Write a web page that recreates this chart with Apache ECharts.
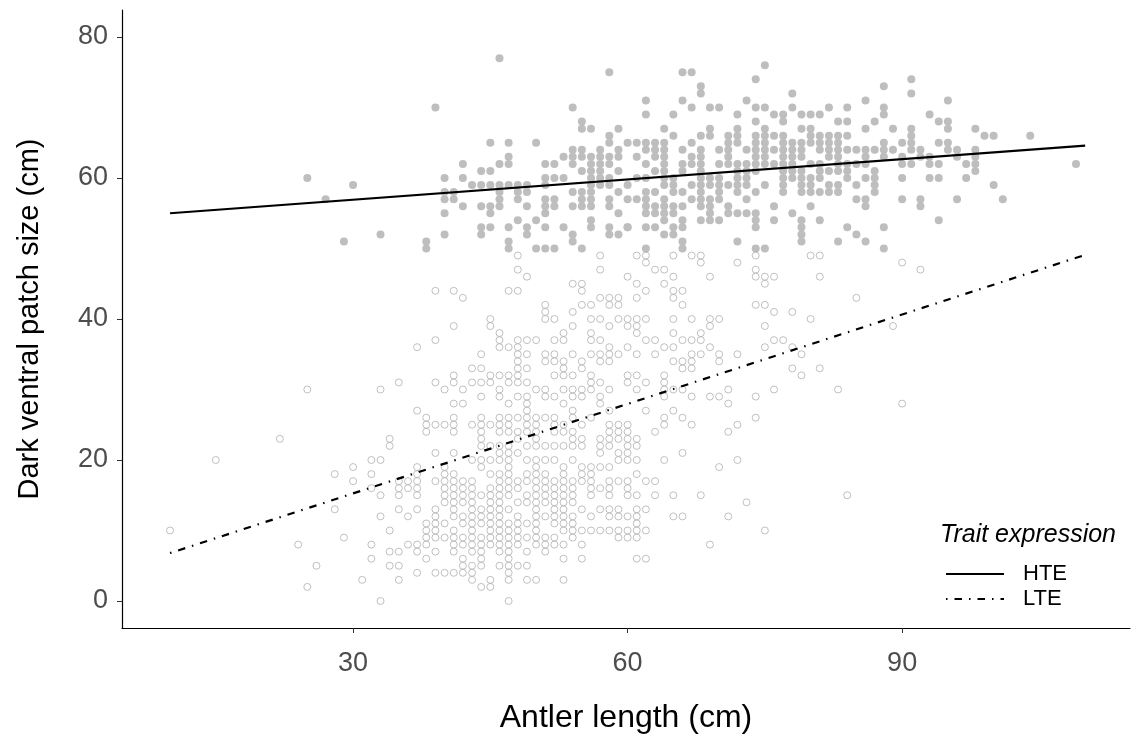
<!DOCTYPE html>
<html>
<head>
<meta charset="utf-8">
<title>Antler length vs dark ventral patch</title>
<script src="https://cdn.jsdelivr.net/npm/echarts@6/dist/echarts.min.js"></script>
<style>
  html, body { margin: 0; padding: 0; background: #fff; }
  #chart { width: 1135px; height: 740px; }
</style>
</head>
<body>
<div id="chart"></div>
<script>
// tick labels
const xTicks = [30, 60, 90]
const yTicks = [0, 20, 40, 60, 80]

// high trait expression (filled points), [antler length, patch size]
const htePoints = [
  [25, 60], [30, 59], [27, 57], [29, 51], [33, 52], [38, 51], [38, 50],
  [46, 77], [58, 75], [39, 70], [54, 70], [55, 68], [55, 67], [56, 67], [59, 67], [58, 66],
  [45, 65], [47, 65], [50, 65], [58, 65], [60, 65],
  [54, 64], [55, 64], [57, 64], [59, 64],
  [47, 63], [53, 63], [54, 63], [55, 63], [56, 63], [57, 63], [58, 63], [59, 63],
  [42, 62], [46, 62], [47, 62], [51, 62], [52, 62], [54, 62], [56, 62], [57, 62], [58, 62],
  [44, 61], [45, 61], [55, 61], [56, 61], [57, 61], [59, 61],
  [40, 60], [42, 60], [51, 60], [52, 60], [53, 60], [56, 60], [57, 60], [58, 60],
  [43, 59], [44, 59], [45, 59], [46, 59], [47, 59], [48, 59], [49, 59], [51, 59], [56, 59], [57, 59], [58, 59], [60, 59],
  [40, 58], [41, 58], [46, 58], [48, 58], [49, 58], [54, 58], [55, 58], [56, 58], [59, 58],
  [40, 57], [41, 57], [46, 57], [48, 57], [51, 57], [52, 57], [55, 57], [56, 57], [58, 57], [60, 57],
  [42, 56], [44, 56], [45, 56], [46, 56], [49, 56], [51, 56], [52, 56], [54, 56], [55, 56], [56, 56], [58, 56],
  [40, 55], [45, 55], [51, 55], [59, 55],
  [48, 54], [50, 54], [56, 54],
  [44, 53], [45, 53], [47, 53], [49, 53], [51, 53], [53, 53], [56, 53], [58, 53], [60, 53],
  [40, 52], [44, 52], [49, 52], [54, 52], [58, 52], [59, 52],
  [47, 51], [54, 51], [47, 50], [50, 50], [51, 50], [52, 50], [55, 50],
  [75, 76], [66, 75], [67, 75], [74, 74], [68, 73], [88, 73], [68, 72], [78, 72], [86, 71], [62, 71], [66, 71], [73, 71],
  [69, 70], [75, 70], [82, 70], [67, 70], [70, 70], [74, 70], [78, 70], [84, 70], [88, 70],
  [62, 69], [65, 69], [72, 69], [76, 69], [77, 69], [79, 69], [80, 69], [81, 69], [88, 69],
  [74, 68], [77, 68], [83, 68], [84, 68], [87, 68],
  [64, 67], [69, 67], [72, 67], [75, 67], [79, 67], [80, 67], [86, 67],
  [65, 66], [68, 66], [69, 66], [71, 66], [72, 66], [74, 66], [75, 66], [76, 66], [77, 66], [80, 66], [81, 66], [82, 66], [83, 66], [84, 66],
  [61, 65], [62, 65], [63, 65], [64, 65], [67, 65], [71, 65], [72, 65], [74, 65], [75, 65], [77, 65], [78, 65], [79, 65], [80, 65], [81, 65], [82, 65], [83, 65],
  [62, 64], [63, 64], [64, 64], [66, 64], [68, 64], [70, 64], [71, 64], [73, 64], [74, 64], [75, 64], [76, 64], [77, 64], [78, 64], [79, 64],
  [81, 64], [82, 64], [83, 64], [84, 64], [85, 64], [86, 64], [87, 64], [88, 64],
  [61, 63], [63, 63], [64, 63], [67, 63], [68, 63], [71, 63], [74, 63], [75, 63], [77, 63], [78, 63], [79, 63], [82, 63], [83, 63], [86, 63], [88, 63],
  [62, 62], [64, 62], [66, 62], [67, 62], [68, 62], [70, 62], [71, 62], [72, 62], [73, 62], [74, 62], [75, 62], [76, 62], [77, 62], [78, 62],
  [80, 62], [81, 62], [83, 62], [84, 62], [85, 62], [86, 62],
  [63, 61], [64, 61], [66, 61], [68, 61], [72, 61], [73, 61], [74, 61], [77, 61], [78, 61], [79, 61], [81, 61], [82, 61], [83, 61], [84, 61], [87, 61],
  [61, 60], [62, 60], [64, 60], [65, 60], [68, 60], [69, 60], [70, 60], [72, 60], [73, 60], [77, 60], [78, 60], [79, 60], [80, 60], [81, 60], [84, 60], [86, 60], [87, 60],
  [64, 59], [65, 59], [67, 59], [68, 59], [69, 59], [70, 59], [71, 59], [72, 59], [73, 59], [75, 59], [77, 59], [79, 59], [80, 59], [82, 59], [83, 59], [85, 59], [87, 59],
  [62, 58], [63, 58], [65, 58], [66, 58], [68, 58], [70, 58], [72, 58], [74, 58], [77, 58], [79, 58], [80, 58], [81, 58], [82, 58], [83, 58], [87, 58],
  [61, 57], [62, 57], [64, 57], [67, 57], [68, 57], [69, 57], [70, 57], [73, 57], [85, 57], [86, 57],
  [62, 56], [63, 56], [64, 56], [65, 56], [66, 56], [68, 56], [69, 56], [71, 56], [76, 56], [80, 56], [86, 56],
  [64, 55], [65, 55], [69, 55], [71, 55], [73, 55], [78, 55], [62, 55], [63, 55], [72, 55], [74, 55],
  [64, 54], [66, 54], [68, 54], [69, 54], [70, 54], [74, 54], [76, 54], [79, 54], [81, 54],
  [60, 53], [62, 53], [63, 53], [65, 53], [66, 53], [74, 53], [79, 53], [84, 53], [88, 53],
  [64, 52], [65, 52], [79, 52], [85, 52],
  [66, 51], [72, 51], [79, 51], [83, 51], [86, 51],
  [62, 50], [66, 50], [74, 50], [75, 50], [88, 50],
  [91, 74], [91, 72], [95, 71], [93, 69], [95, 68], [94, 68], [89, 67], [91, 67], [95, 67], [98, 67], [99, 66], [100, 66], [91, 66], [95, 65], [104, 66],
  [88, 65], [90, 65], [91, 65], [94, 65], [89, 64], [91, 64], [92, 64], [95, 64], [96, 64], [98, 64], [98, 63], [93, 63], [90, 63], [92, 63],
  [94, 62], [90, 62], [91, 62], [93, 62], [97, 62], [98, 62], [96, 63], [109, 62], [98, 61], [90, 60], [93, 60], [94, 60], [97, 60], [100, 59],
  [90, 57], [92, 57], [92, 56], [96, 57], [101, 57], [94, 54]
]

// low trait expression (open points)
const ltePoints = [
  [10, 10], [15, 20], [22, 23], [25, 30], [28, 18], [30, 19], [30, 17], [32, 16], [32, 20], [32, 18], [28, 13], [29, 9],
  [24, 8], [26, 5], [25, 2], [31, 3], [32, 6], [32, 8],
  [48, 49], [57, 49], [48, 47], [57, 47], [49, 46], [60, 46], [54, 45], [55, 45], [39, 44], [41, 44], [42, 43], [47, 44], [48, 44],
  [55, 44], [57, 43], [58, 43], [59, 43],
  [51, 42], [55, 42], [56, 42], [58, 42], [59, 42], [51, 41], [54, 41],
  [45, 40], [51, 40], [52, 40], [56, 40], [57, 40], [59, 40], [60, 40],
  [41, 39], [45, 39], [54, 39], [58, 39], [60, 39],
  [46, 38], [53, 38], [56, 38],
  [39, 37], [46, 37], [48, 37], [49, 37], [50, 37], [52, 37], [53, 37], [56, 37], [57, 37],
  [37, 36], [46, 36], [47, 36], [48, 36], [58, 36], [60, 36],
  [44, 35], [48, 35], [49, 35], [51, 35], [52, 35], [54, 35], [56, 35], [57, 35], [58, 35], [59, 35],
  [48, 34], [51, 34], [52, 34], [53, 34], [55, 34], [57, 34], [58, 34],
  [43, 33], [44, 33], [48, 33], [49, 33], [53, 33], [55, 33],
  [41, 32], [45, 32], [46, 32], [47, 32], [48, 32], [52, 32], [53, 32], [54, 32], [56, 32], [60, 32],
  [35, 31], [39, 31], [41, 31], [43, 31], [44, 31], [45, 31], [47, 31], [48, 31], [49, 31], [56, 31], [57, 31], [60, 31],
  [33, 30], [40, 30], [42, 30], [46, 30], [50, 30], [51, 30], [53, 30], [54, 30], [55, 30], [56, 30], [58, 30],
  [44, 29], [46, 29], [48, 29], [49, 29], [51, 29], [52, 29], [54, 29], [55, 29], [57, 29],
  [41, 28], [42, 28], [47, 28], [49, 28], [53, 28], [57, 28],
  [37, 27], [49, 27], [54, 27], [58, 27],
  [38, 26], [41, 26], [44, 26], [46, 26], [47, 26], [48, 26], [49, 26], [50, 26], [51, 26], [52, 26], [54, 26], [56, 26],
  [38, 25], [39, 25], [40, 25], [41, 25], [43, 25], [44, 25], [45, 25], [46, 25], [47, 25], [49, 25], [50, 25], [52, 25], [53, 25],
  [55, 25], [58, 25], [59, 25], [60, 25],
  [38, 24], [41, 24], [44, 24], [46, 24], [47, 24], [48, 24], [49, 24], [50, 24], [52, 24], [53, 24], [54, 24], [58, 24], [59, 24], [60, 24],
  [34, 23], [44, 23], [48, 23], [50, 23], [54, 23], [55, 23], [57, 23], [58, 23], [59, 23], [60, 23],
  [34, 22], [44, 22], [45, 22], [46, 22], [47, 22], [49, 22], [50, 22], [51, 22], [52, 22], [53, 22], [54, 22], [55, 22], [57, 22], [58, 22], [60, 22],
  [39, 21], [41, 21], [46, 21], [47, 21], [48, 21], [57, 21], [59, 21], [60, 21],
  [33, 20], [43, 20], [44, 20], [45, 20], [46, 20], [47, 20], [49, 20], [50, 20], [51, 20], [52, 20], [54, 20], [59, 20], [60, 20],
  [37, 19], [40, 19], [44, 19], [47, 19], [50, 19], [53, 19], [55, 19], [56, 19], [57, 19], [58, 19],
  [37, 18], [40, 18], [41, 18], [45, 18], [46, 18], [47, 18], [49, 18], [50, 18], [51, 18], [53, 18], [55, 18], [56, 18],
  [35, 17], [36, 17], [37, 17], [39, 17], [40, 17], [41, 17], [42, 17], [43, 17], [46, 17], [47, 17], [48, 17], [49, 17], [50, 17],
  [51, 17], [52, 17], [53, 17], [54, 17], [55, 17], [56, 17], [58, 17], [59, 17], [60, 17],
  [35, 16], [36, 16], [37, 16], [40, 16], [41, 16], [42, 16], [43, 16], [45, 16], [46, 16], [47, 16], [48, 16], [50, 16], [51, 16],
  [52, 16], [53, 16], [54, 16], [56, 16], [57, 16], [58, 16], [60, 16],
  [33, 15], [35, 15], [37, 15], [40, 15], [41, 15], [42, 15], [43, 15], [44, 15], [45, 15], [46, 15], [47, 15], [49, 15], [50, 15],
  [51, 15], [52, 15], [53, 15], [54, 15], [56, 15], [58, 15], [60, 15],
  [40, 14], [41, 14], [42, 14], [43, 14], [45, 14], [46, 14], [48, 14], [49, 14], [50, 14], [51, 14], [52, 14], [53, 14], [54, 14],
  [35, 13], [37, 13], [39, 13], [41, 13], [43, 13], [44, 13], [45, 13], [46, 13], [47, 13], [50, 13], [52, 13], [53, 13], [55, 13],
  [57, 13], [58, 13], [59, 13],
  [33, 12], [36, 12], [39, 12], [41, 12], [42, 12], [43, 12], [44, 12], [45, 12], [46, 12], [48, 12], [50, 12], [51, 12], [52, 12],
  [53, 12], [54, 12], [56, 12], [58, 12], [59, 12], [60, 12],
  [38, 11], [39, 11], [40, 11], [42, 11], [43, 11], [44, 11], [45, 11], [46, 11], [47, 11], [48, 11], [49, 11], [50, 11], [52, 11],
  [53, 11], [54, 11],
  [34, 10], [38, 10], [39, 10], [41, 10], [43, 10], [45, 10], [46, 10], [47, 10], [48, 10], [50, 10], [53, 10], [54, 10], [55, 10],
  [56, 10], [57, 10], [58, 10], [59, 10], [60, 10],
  [38, 9], [39, 9], [40, 9], [41, 9], [42, 9], [43, 9], [44, 9], [45, 9], [46, 9], [47, 9], [48, 9], [49, 9], [50, 9], [51, 9],
  [52, 9], [54, 9], [59, 9], [60, 9],
  [36, 8], [37, 8], [38, 8], [41, 8], [42, 8], [43, 8], [44, 8], [45, 8], [46, 8], [47, 8], [48, 8], [50, 8], [51, 8], [52, 8], [53, 8], [55, 8],
  [34, 7], [35, 7], [37, 7], [39, 7], [41, 7], [43, 7], [44, 7], [46, 7], [47, 7], [49, 7], [51, 7],
  [38, 6], [42, 6], [44, 6], [47, 6], [53, 6], [55, 6],
  [34, 5], [35, 5], [42, 5], [43, 5], [44, 5], [46, 5], [47, 5], [48, 5], [49, 5],
  [37, 4], [39, 4], [40, 4], [41, 4], [42, 4], [43, 4], [47, 4],
  [35, 3], [43, 3], [45, 3], [47, 3], [49, 3], [50, 3], [53, 3],
  [44, 2], [45, 2], [33, 0], [47, 0],
  [61, 49], [62, 49], [65, 49], [67, 49], [68, 49], [74, 49], [80, 49], [81, 49],
  [62, 48], [68, 48], [72, 48], [63, 47], [64, 47], [74, 47],
  [65, 46], [69, 46], [74, 46], [75, 46], [76, 46], [81, 46],
  [61, 45], [64, 45], [75, 45], [62, 44], [65, 44], [66, 44], [61, 43], [65, 43], [85, 43],
  [66, 42], [74, 42], [75, 42], [76, 41], [78, 41],
  [61, 40], [62, 40], [65, 40], [67, 40], [69, 40], [70, 40], [80, 40],
  [61, 39], [69, 39], [75, 39], [61, 38], [65, 38], [68, 38],
  [62, 37], [63, 37], [66, 37], [67, 37], [68, 37], [76, 37], [77, 37],
  [64, 36], [65, 36], [69, 36], [75, 36], [78, 36],
  [61, 35], [63, 35], [67, 35], [68, 35], [70, 35], [72, 35], [79, 35],
  [65, 34], [66, 34], [67, 34], [70, 34],
  [66, 33], [67, 33], [78, 33], [81, 33], [61, 32], [64, 32], [79, 32], [62, 31], [64, 31],
  [61, 30], [64, 30], [65, 30], [66, 30], [71, 30], [76, 30], [83, 30],
  [64, 29], [67, 29], [69, 29], [70, 29], [74, 29], [71, 28], [62, 27], [65, 27], [64, 26], [66, 26], [74, 26],
  [64, 25], [67, 25], [72, 25], [63, 24], [71, 24],
  [61, 23], [61, 22], [66, 21], [61, 20], [64, 20], [72, 20], [70, 19], [61, 18], [62, 17], [63, 17],
  [61, 15], [63, 15], [65, 15], [68, 15], [84, 15], [73, 14], [61, 13], [62, 13], [61, 12], [65, 12], [66, 12], [71, 12],
  [61, 11], [61, 10], [62, 10], [75, 10], [61, 9], [69, 8], [61, 6], [62, 6],
  [90, 48], [92, 47], [89, 39], [90, 28]
]

// fitted lines, end points
const hteFit = [[10, 55.0], [110, 64.6]]
const lteFit = [[10, 6.8], [110, 49.1]]

const chart = echarts.init(document.getElementById('chart'), null, { renderer: 'canvas' })

const axisFont = 'Liberation Sans, Arial, sans-serif'

const option = {
  animation: false,
  backgroundColor: '#fff',
  grid: {
    left: 122,
    right: 5,
    top: 10,
    bottom: 112
  },
  xAxis: {
    type: 'value',
    min: 4.75,
    max: 114.9,
    name: 'Antler length (cm)',
    nameLocation: 'middle',
    nameGap: 74,
    nameTextStyle: { fontFamily: axisFont, fontSize: 32, color: '#000' },
    axisLine: { show: true, onZero: false, lineStyle: { color: '#000', width: 1.2 } },
    axisTick: { show: true, length: 5, customValues: xTicks, lineStyle: { color: '#333' } },
    axisLabel: { customValues: xTicks, fontFamily: axisFont, fontSize: 27, color: '#4d4d4d', margin: 22 },
    splitLine: { show: false }
  },
  yAxis: {
    type: 'value',
    min: -3.83,
    max: 83.83,
    name: 'Dark ventral patch size (cm)',
    nameLocation: 'middle',
    nameGap: 78,
    nameTextStyle: { fontFamily: axisFont, fontSize: 29, color: '#000' },
    axisLine: { show: true, onZero: false, lineStyle: { color: '#000', width: 1.2 } },
    axisTick: { show: true, length: 5, customValues: yTicks, lineStyle: { color: '#333' } },
    axisLabel: { customValues: yTicks, fontFamily: axisFont, fontSize: 27, color: '#4d4d4d', margin: 14 },
    splitLine: { show: false }
  },
  legend: {
    data: ['HTE', 'LTE'],
    orient: 'vertical',
    left: 940,
    top: 558,
    itemWidth: 58,
    itemHeight: 22,
    itemGap: 3,
    selectedMode: false,
    itemStyle: { opacity: 0 },
    textStyle: { fontFamily: axisFont, fontSize: 22, color: '#000', padding: [0, 0, 0, 14] }
  },
  graphic: [
    {
      type: 'text',
      left: 940,
      top: 523,
      style: {
        text: 'Trait expression',
        fontFamily: axisFont,
        fontStyle: 'italic',
        fontSize: 25,
        fill: '#000'
      }
    }
  ],
  series: [
    {
      name: 'HTE points',
      type: 'scatter',
      data: htePoints,
      symbolSize: 8,
      silent: true,
      itemStyle: { color: '#bebebe', opacity: 1 },
      z: 2
    },
    {
      name: 'LTE points',
      type: 'scatter',
      data: ltePoints,
      symbol: 'circle',
      symbolSize: 7,
      silent: true,
      itemStyle: { color: 'rgba(0,0,0,0)', borderColor: '#b0b0b0', borderWidth: 1 },
      z: 2
    },
    {
      name: 'HTE',
      type: 'line',
      data: hteFit,
      symbol: 'none',
      silent: true,
      lineStyle: { color: '#000', width: 2.2, type: 'solid' },
      itemStyle: { color: '#000' },
      z: 5
    },
    {
      name: 'LTE',
      type: 'line',
      data: lteFit,
      symbol: 'none',
      silent: true,
      lineStyle: { color: '#000', width: 2.2, type: [1.5, 7, 7.5, 7] },
      itemStyle: { color: '#000' },
      z: 5
    }
  ]
}

chart.setOption(option)
</script>
</body>
</html>
